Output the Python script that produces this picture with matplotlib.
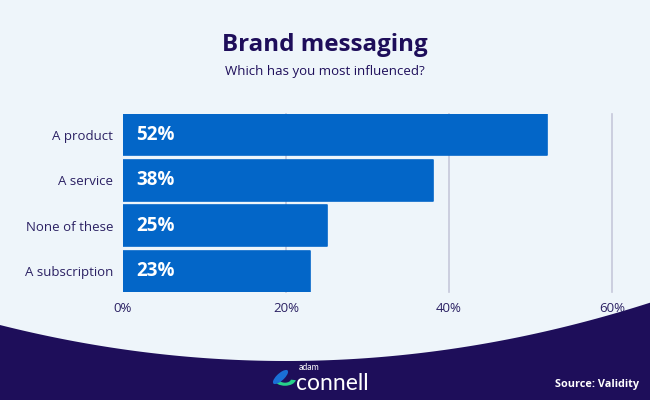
import matplotlib.pyplot as plt
import numpy as np
from matplotlib.patches import Polygon, Ellipse, Wedge

# data
categories = ['A product', 'A service', 'None of these', 'A subscription']
values = [52, 38, 25, 23]
ticks = [0, 20, 40, 60]
tick_labels = ['0%', '20%', '40%', '60%']

bg = '#eef5fa'
navy = '#1e0e5a'
bar_col = '#0366c8'
text_col = '#2b2163'
grid_col = '#c6c8da'

plt.rcParams['font.family'] = ['Open Sans', 'DejaVu Sans']

fig = plt.figure(figsize=(6.5, 4), dpi=100)
fig.patch.set_facecolor(bg)

ax = fig.add_axes([123/650, 1 - 292/400, (612 - 123)/650, (292 - 114)/400])
ax.set_facecolor('none')

y = np.arange(len(categories))
ax.barh(y, values, height=0.9, color=bar_col, edgecolor=bar_col,
        linewidth=1.2, joinstyle='round', zorder=3)
for yi, v in zip(y, values):
    ax.text(1.6, yi, f'{v}%', color='white', fontsize=13.5, fontweight='bold',
            va='center', ha='left', zorder=4)

ax.set_xlim(0, 60)
ax.set_ylim(len(categories) - 0.55, -0.45)
ax.set_yticks(y)
ax.set_yticklabels(categories, fontsize=9.5, color=text_col)
ax.set_xticks(ticks)
ax.set_xticklabels(tick_labels, fontsize=9.5, color=text_col)
ax.tick_params(axis='y', length=0, pad=7)
ax.tick_params(axis='x', length=0, pad=7)
for s in ax.spines.values():
    s.set_visible(False)
for t in ticks[1:]:
    ax.axvline(t, color=grid_col, lw=1.2, zorder=1, clip_on=False)

# titles
fig.text(0.5, 1 - 45/400, 'Brand messaging', ha='center', va='center',
         fontsize=17.4, fontweight='bold', color=navy)
fig.text(0.5, 1 - 72/400, 'Which has you most influenced?', ha='center',
         va='center', fontsize=9.5, color=navy)

# curved footer
xs = np.linspace(0, 650, 200)
ys = 361 - 0.00044 * (xs - 286) ** 2
pts = [(x / 650, 1 - yv / 400) for x, yv in zip(xs, ys)] + [(1, 0), (0, 0)]
fig.add_artist(Polygon(pts, closed=True, transform=fig.transFigure,
                       facecolor=navy, edgecolor='none', zorder=0))

# logo
W, H = 650, 400
fig.add_artist(Wedge((285 / W, 1 - 379 / H), 11 / W, 190, 350,
                     width=5 / W, transform=fig.transFigure,
                     facecolor='#27d18a', edgecolor='none', zorder=2))
fig.add_artist(Ellipse((280.5 / W, 1 - 377 / H), 9 / W, 16 / H, angle=-30,
                       transform=fig.transFigure, facecolor='#1a6fd6',
                       edgecolor='none', zorder=3))
fig.text(299 / W, 1 - 370 / H, 'adam', fontsize=6.3, color='white',
         ha='left', va='baseline', family='Lato')
fig.text(296 / W, 1 - 390 / H, 'connell', fontsize=16.5, color='white',
         ha='left', va='baseline', family='Lato')

fig.text(639 / W, 1 - 385 / H, 'Source: Validity', fontsize=7.8,
         fontweight='bold', color='white', ha='right', va='center')

fig.savefig('out.png', dpi=100, facecolor=bg)
